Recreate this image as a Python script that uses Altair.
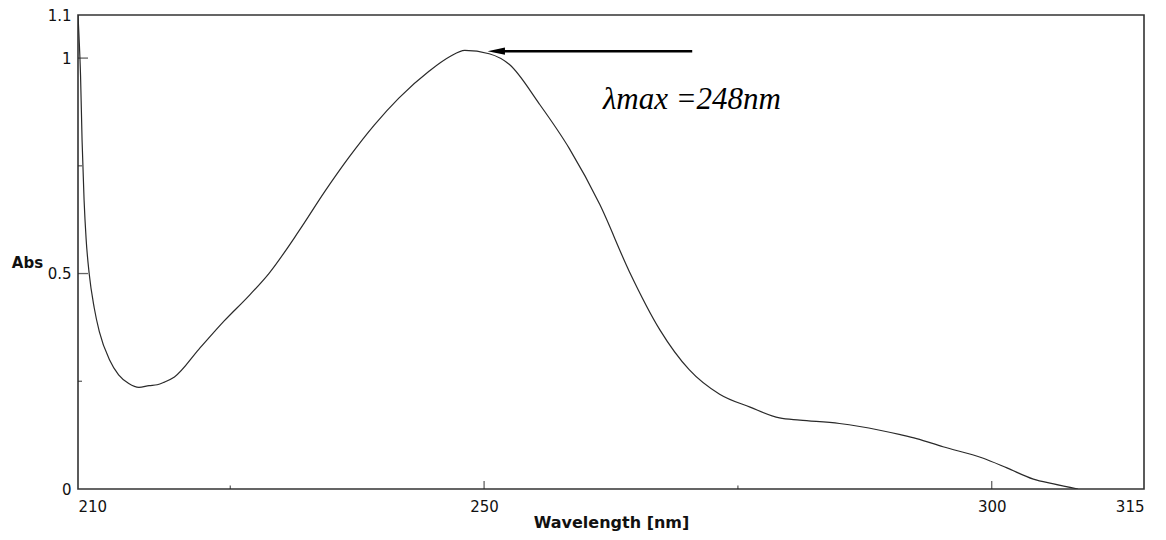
import altair as alt
import pandas as pd

# Spectrum (wavelength nm, absorbance)
wavelength = [210.0, 210.1, 210.25, 210.4, 210.6, 210.8, 211.1, 211.6, 212.1, 213.1,
              214.0, 215.0, 216.0, 217.0, 217.8, 218.5, 219.5, 221.9, 224.4, 226.9,
              228.8, 231.8, 234.3, 236.7, 239.2, 241.6, 244.6, 246.6, 248.1, 250.5,
              252.5, 255.4, 258.4, 261.4, 264.3, 267.3, 270.2, 273.2, 276.2, 279.1,
              281.1, 285.0, 287.0, 291.0, 292.6, 295.2, 299.1, 301.5, 304.1, 306.1, 308.5]
absorbance = [1.10, 1.05, 0.96, 0.81, 0.67, 0.58, 0.50, 0.42, 0.365, 0.30,
              0.265, 0.245, 0.236, 0.24, 0.242, 0.248, 0.26, 0.324, 0.39, 0.45,
              0.50, 0.60, 0.69, 0.77, 0.845, 0.907, 0.97, 1.003, 1.018, 1.01,
              0.985, 0.895, 0.79, 0.66, 0.505, 0.37, 0.277, 0.22, 0.19, 0.165,
              0.16, 0.152, 0.145, 0.126, 0.117, 0.098, 0.072, 0.049, 0.023, 0.012, 0.0]

x_labels = [210, 250, 300, 315]
x_major = [250, 300]
x_minor = [225, 275]
y_labels = [0, 0.5, 1, 1.1]
y_major = [0.5, 1]
y_minor = [0.25, 0.75]

arrow_x = [251.2, 270.5]
arrow_y = 1.016
note_text = "λmax =248nm"
note_x = 261.7
note_y = 0.883

X_DOM = [210, 315]
Y_DOM = [0, 1.1]

spec = pd.DataFrame({"wl": wavelength, "abs": absorbance})

xs = alt.Scale(domain=X_DOM, nice=False, zero=False)
ys = alt.Scale(domain=Y_DOM, nice=False, zero=False)

line = alt.Chart(spec).mark_line(color="#2a2a2a", strokeWidth=1.2, clip=True,
                                 interpolate="monotone").encode(
    x=alt.X("wl:Q", scale=xs, axis=alt.Axis(
        values=x_labels, labelExpr="toString(datum.value)", ticks=False, domain=False,
        grid=False, labelFont="DejaVu Sans", labelFontSize=15, labelColor="#111",
        labelPadding=10, title="Wavelength [nm]", titleFont="DejaVu Sans",
        titleFontSize=16, titleFontWeight="bold", titleColor="#111",
        titleBaseline="alphabetic", titleY=38)),
    y=alt.Y("abs:Q", scale=ys, axis=alt.Axis(
        values=y_labels, labelExpr="toString(datum.value)", ticks=False, domain=False,
        grid=False, labelFont="DejaVu Sans", labelFontSize=15, labelColor="#111",
        labelPadding=7, title="Abs", titleFont="DejaVu Sans", titleFontSize=15,
        titleFontWeight="bold", titleColor="#111", titleAngle=0,
        titleAlign="center", titleBaseline="middle", titleX=-51, titleY=247)),
)

xmaj = alt.Chart(pd.DataFrame({"v": x_major})).mark_tick(
    orient="vertical", size=16, thickness=1.3, color="#222", clip=True
).encode(x=alt.X("v:Q", scale=xs), y=alt.datum(0))
xmin = alt.Chart(pd.DataFrame({"v": x_minor})).mark_tick(
    orient="vertical", size=7, thickness=1.3, color="#222", clip=True
).encode(x=alt.X("v:Q", scale=xs), y=alt.datum(0))
ymaj = alt.Chart(pd.DataFrame({"v": y_major})).mark_tick(
    orient="horizontal", size=20, thickness=1.3, color="#222", clip=True
).encode(y=alt.Y("v:Q", scale=ys), x=alt.datum(210))
ymin = alt.Chart(pd.DataFrame({"v": y_minor})).mark_tick(
    orient="horizontal", size=8, thickness=1.3, color="#222", clip=True
).encode(y=alt.Y("v:Q", scale=ys), x=alt.datum(210))

arrow_df = pd.DataFrame({"x1": [arrow_x[0]], "x2": [arrow_x[1]], "y": [arrow_y]})
arrow_line = alt.Chart(arrow_df).mark_rule(color="black", strokeWidth=2.4).encode(
    x=alt.X("x1:Q", scale=xs), x2="x2:Q", y=alt.Y("y:Q", scale=ys))
arrow_head = alt.Chart(arrow_df).mark_point(
    shape="M 1 -0.42 L -1 0 L 1 0.42 Z", filled=True, color="black", size=300, opacity=1
).encode(x=alt.X("x1:Q", scale=xs), y=alt.Y("y:Q", scale=ys))

note = alt.Chart(pd.DataFrame({"x": [note_x], "y": [note_y], "t": [note_text]})).mark_text(
    font="Liberation Serif", fontStyle="italic", fontSize=31, align="left",
    baseline="alphabetic", color="black"
).encode(x=alt.X("x:Q", scale=xs), y=alt.Y("y:Q", scale=ys), text="t:N")

chart = alt.layer(line, xmaj, xmin, ymaj, ymin, arrow_line, arrow_head, note).properties(
    width=1066, height=474,
    autosize=alt.AutoSizeParams(type="none"),
    padding={"left": 70, "top": 7, "right": 14, "bottom": 43},
    background="white",
).configure_view(stroke="#333", strokeWidth=1.6)

chart.save("out.html", embed_options={"renderer": "svg", "actions": False})
